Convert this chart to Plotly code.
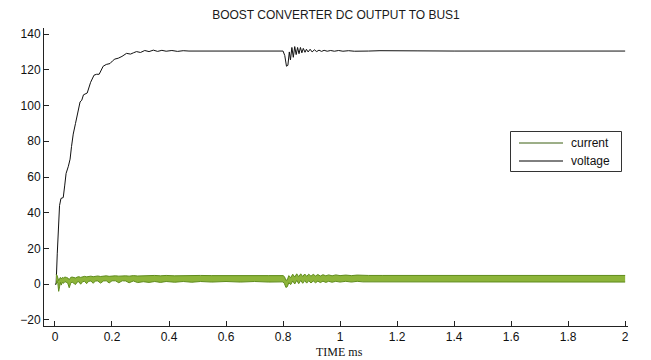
import plotly.graph_objects as go

# ---- voltage series (time in ms, volts) ----
volt_t = [0.000, 0.004, 0.008, 0.012, 0.016, 0.021, 0.029, 0.034, 0.039, 0.047,
          0.053, 0.058, 0.064, 0.072, 0.080, 0.088, 0.094, 0.100, 0.113, 0.125,
          0.137, 0.146, 0.155, 0.162, 0.169, 0.180, 0.193, 0.202, 0.210, 0.222,
          0.235, 0.251, 0.265, 0.275, 0.286, 0.300, 0.315, 0.330, 0.345, 0.360,
          0.375, 0.390, 0.410, 0.430, 0.450, 0.470, 0.500, 0.540, 0.600, 0.800,
          0.806, 0.812, 0.817, 0.822, 0.826, 0.831, 0.836, 0.841, 0.846, 0.851,
          0.856, 0.861, 0.866, 0.871, 0.877, 0.882, 0.888, 0.895, 0.902, 0.910,
          0.918, 0.926, 0.935, 0.944, 0.955, 0.967, 0.980, 0.995, 1.010, 1.030,
          1.050, 1.070, 1.100, 1.140, 1.200, 1.270, 1.400, 2.000]
volt_v = [0.0, 0.0, 17.0, 30.0, 44.0, 48.0, 48.5, 55.0, 62.0, 66.0,
          70.0, 77.0, 84.0, 90.0, 96.0, 102.0, 103.0, 106.0, 107.0, 113.0,
          117.0, 117.5, 117.5, 120.0, 122.0, 123.0, 123.5, 125.0, 126.0, 126.5,
          127.5, 129.2, 128.8, 129.5, 130.2, 129.7, 130.8, 130.2, 131.0, 130.3,
          130.9, 130.4, 130.8, 130.3, 130.7, 130.5, 130.5, 130.5, 130.5, 130.5,
          128.0, 122.0, 122.5, 130.0, 125.5, 132.5, 127.0, 133.0, 128.5, 132.5,
          129.0, 132.5, 129.5, 132.0, 129.8, 131.5, 130.0, 131.5, 130.0, 131.2,
          130.2, 131.0, 130.3, 130.9, 130.4, 130.8, 130.4, 130.8, 130.4, 130.7,
          130.4, 130.6, 130.5, 130.7, 130.5, 130.6, 130.5, 130.5]

# ---- current series: ripple band (lower / upper envelope) ----
cur_t = [0.004, 0.007, 0.010, 0.013, 0.016, 0.019, 0.022, 0.026, 0.030, 0.035,
         0.040, 0.045, 0.050, 0.055, 0.060, 0.066, 0.072, 0.078, 0.084, 0.090,
         0.097, 0.104, 0.111, 0.118, 0.126, 0.134, 0.142, 0.150, 0.160, 0.170,
         0.180, 0.190, 0.200, 0.212, 0.224, 0.236, 0.248, 0.260, 0.275, 0.290,
         0.31, 0.33, 0.35, 0.37, 0.39, 0.42, 0.45, 0.48, 0.51, 0.55,
         0.60, 0.65, 0.70, 0.75, 0.80,
         0.805, 0.810, 0.815, 0.820, 0.827, 0.834, 0.841, 0.848, 0.855, 0.862,
         0.869, 0.876, 0.883, 0.890, 0.898, 0.906, 0.914, 0.922, 0.931, 0.940,
         0.950, 0.960, 0.972, 0.985, 1.000, 1.020, 1.040, 1.060, 1.080, 1.100,
         1.15, 1.25, 1.40, 1.60, 1.80, 2.00]
cur_lo = [0.0, 2.0, 0.5, -4.0, -1.5, 1.0, -0.5, 1.0, 0.5, 1.5,
          1.0, 0.5, -2.0, 0.5, 1.2, 0.6, -0.2, 1.2, 1.4, 0.0,
          1.4, 1.6, 0.3, 1.6, 1.8, 0.5, 1.8, 1.8, 0.6, 1.8,
          1.9, 0.7, 1.9, 1.9, 0.8, 1.9, 1.8, 0.8, 1.8, 0.9,
          1.4, 1.0, 1.5, 1.0, 1.5, 1.1, 1.5, 1.1, 1.5, 1.2,
          1.5, 1.2, 1.5, 1.2, 1.3,
          0.3, -1.8, -1.4, 0.8, -0.2, 1.8, 0.1, 2.1, 0.3, 2.1,
          0.5, 2.0, 0.6, 1.9, 0.7, 1.8, 0.8, 1.7, 0.9, 1.7,
          1.0, 1.6, 1.1, 1.6, 1.2, 1.6, 1.2, 1.6, 1.3, 1.3,
          1.2, 1.2, 1.2, 1.2, 1.2, 1.2]
cur_hi = [5.5, 5.0, 3.5, 2.0, 3.0, 3.8, 3.0, 3.8, 3.5, 4.0,
          3.8, 3.5, 2.5, 3.8, 4.0, 3.8, 3.5, 4.0, 4.2, 3.8,
          4.3, 4.4, 4.1, 4.4, 4.5, 4.2, 4.5, 4.6, 4.3, 4.6,
          4.7, 4.4, 4.7, 4.7, 4.5, 4.7, 4.7, 4.5, 4.8, 4.6,
          4.8, 4.7, 4.9, 4.7, 4.9, 4.7, 4.9, 4.7, 4.9, 4.8,
          4.9, 4.8, 4.9, 4.8, 4.8,
          4.2, 2.2, 2.4, 4.8, 3.7, 5.6, 4.0, 5.8, 4.2, 5.8,
          4.3, 5.7, 4.4, 5.6, 4.5, 5.5, 4.6, 5.4, 4.6, 5.3,
          4.7, 5.2, 4.7, 5.2, 4.8, 5.1, 4.8, 5.1, 4.8, 4.9,
          4.9, 4.9, 4.9, 4.9, 4.9, 4.9]

x_ticks = [0, 0.2, 0.4, 0.6, 0.8, 1, 1.2, 1.4, 1.6, 1.8, 2]
y_ticks = [-20, 0, 20, 40, 60, 80, 100, 120, 140]
legend_names = ["current", "voltage"]

band_fill = "#8db43a"
band_edge = "#5f8c1c"
legend_colors = ["#3b5e10", "#000000"]

W, H = 651, 360
ML, MR, MT, MB = 44, 23, 28, 34
PW, PH = W - ML - MR, H - MT - MB


def px_x(p):
    return (p - ML) / PW


def px_y(p):
    return (H - MB - p) / PH


fig = go.Figure()

fig.add_trace(go.Scatter(x=volt_t, y=volt_v, mode="lines",
                         line=dict(color="#111111", width=1),
                         showlegend=False, hoverinfo="skip"))

fig.add_trace(go.Scatter(x=cur_t, y=cur_lo, mode="lines",
                         line=dict(color=band_edge, width=1),
                         showlegend=False, hoverinfo="skip"))
fig.add_trace(go.Scatter(x=cur_t, y=cur_hi, mode="lines", fill="tonexty",
                         fillcolor=band_fill,
                         line=dict(color=band_edge, width=1),
                         showlegend=False, hoverinfo="skip"))

# hand-drawn legend box (matches the reference layout)
shapes = [dict(type="rect", xref="paper", yref="paper",
               x0=px_x(510.5), x1=px_x(621.5), y0=px_y(131.5), y1=px_y(171.5),
               line=dict(color="#333333", width=1), fillcolor="white", layer="above")]
annotations = []
for i, (name, col) in enumerate(zip(legend_names, legend_colors)):
    yy = 143 + i * 18
    shapes.append(dict(type="line", xref="paper", yref="paper",
                       x0=px_x(519), x1=px_x(563), y0=px_y(yy), y1=px_y(yy),
                       line=dict(color=col, width=1), layer="above"))
    annotations.append(dict(text=name, xref="paper", yref="paper",
                            x=px_x(569), y=px_y(yy), xanchor="left", yanchor="middle",
                            showarrow=False,
                            font=dict(family="Liberation Sans, Arial", size=12,
                                      color="#111111")))

annotations.append(dict(text="TIME ms", xref="paper", yref="paper",
                        x=px_x(339), y=px_y(352), xanchor="center", yanchor="middle",
                        showarrow=False,
                        font=dict(family="Liberation Serif, Times New Roman", size=12,
                                  color="#111111")))

axis_font = dict(family="Liberation Sans, Arial", size=12, color="#111111")

fig.update_layout(
    width=W, height=H,
    margin=dict(l=ML, r=MR, t=MT, b=MB),
    paper_bgcolor="white", plot_bgcolor="white",
    title=dict(text="BOOST CONVERTER DC OUTPUT TO BUS1",
               font=dict(family="Liberation Sans, Arial", size=12, color="#1a1a1a"),
               x=(ML + W - MR) / 2 / W, xanchor="center",
               y=1 - 15 / H, yanchor="middle"),
    showlegend=False,
    shapes=shapes,
    annotations=annotations,
    xaxis=dict(range=[-0.0385, 2.01], tickvals=x_ticks,
               ticktext=[str(v) for v in x_ticks],
               showgrid=False, zeroline=False, showline=True, automargin=False,
               linecolor="#222222", linewidth=1, mirror=False,
               ticks="inside", ticklen=5, tickcolor="#222222",
               tickfont=axis_font),
    yaxis=dict(range=[-23.4, 143.4], tickvals=y_ticks,
               showgrid=False, zeroline=False, showline=True, automargin=False,
               linecolor="#222222", linewidth=1, mirror=False,
               ticks="inside", ticklen=5, tickcolor="#222222",
               tickfont=axis_font),
)

fig.write_html("out.html")
